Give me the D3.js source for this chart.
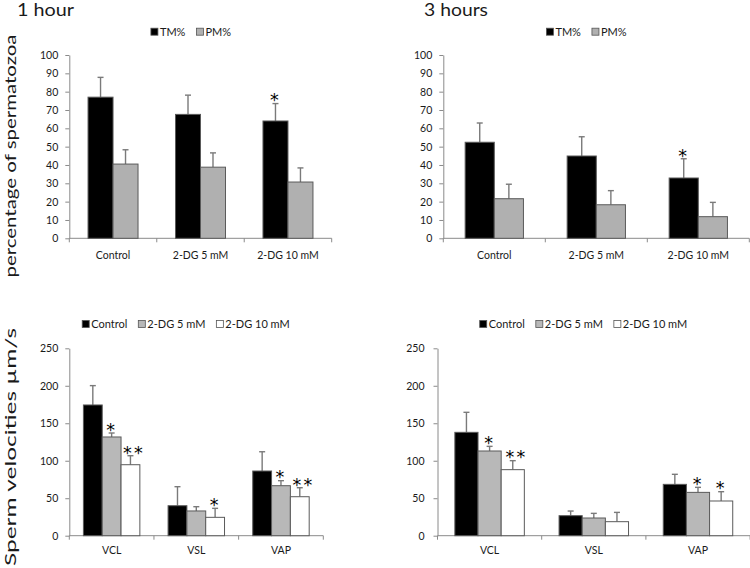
<!DOCTYPE html>
<html><head><meta charset="utf-8">
<script src="https://cdn.jsdelivr.net/npm/d3@7"></script>
<style>
body{margin:0;background:#fff}
svg{display:block}
text{font-family:Lato,"Open Sans",sans-serif;fill:#1a1a1a}
text.star{font-family:"DejaVu Sans",sans-serif;fill:#000}
</style>
</head><body>
<svg id="c" width="750" height="568"></svg>
<script>
// ---------- data ----------
const topCategories = ["Control", "2-DG 5 mM", "2-DG 10 mM"];
const topSeriesNames = ["TM%", "PM%"];
const topTicks = [0,10,20,30,40,50,60,70,80,90,100];

const tm1h = [77.0, 67.6, 64.0];
const tm1hSD = [10.8, 10.5, 9.5];
const pm1h = [40.5, 38.8, 30.7];
const pm1hSD = [7.8, 7.8, 7.7];
const tm1hStars = [0, 0, 1];
const pm1hStars = [0, 0, 0];

const tm3h = [52.4, 44.9, 32.9];
const tm3hSD = [10.5, 10.5, 10.5];
const pm3h = [21.6, 18.3, 11.8];
const pm3hSD = [7.9, 7.7, 7.8];
const tm3hStars = [0, 0, 1];
const pm3hStars = [0, 0, 0];

const botCategories = ["VCL", "VSL", "VAP"];
const botSeriesNames = ["Control", "2-DG 5 mM", "2-DG 10 mM"];
const botTicks = [0,50,100,150,200,250];

const ctl1h = [174.4, 40.0, 86.3];
const ctl1hSD = [25.8, 25.4, 25.7];
const dg5_1h = [131.7, 33.0, 66.7];
const dg5_1hSD = [5.3, 5.7, 6.7];
const dg10_1h = [94.7, 24.5, 52.0];
const dg10_1hSD = [12.0, 12.0, 12.0];
const ctl1hStars = [0, 0, 0];
const dg5_1hStars = [1, 0, 1];
const dg10_1hStars = [2, 1, 2];

const ctl3h = [137.9, 26.7, 68.5];
const ctl3hSD = [26.7, 6.2, 13.4];
const dg5_3h = [113.0, 23.6, 57.8];
const dg5_3hSD = [6.2, 6.2, 6.7];
const dg10_3h = [88.1, 18.7, 46.3];
const dg10_3hSD = [12.0, 12.4, 12.4];
const ctl3hStars = [0, 0, 0];
const dg5_3hStars = [1, 0, 1];
const dg10_3hStars = [2, 0, 1];

const titles = ["1 hour", "3 hours"];
const yLabels = ["percentage of spermatozoa", "Sperm velocities \u00b5m/s"];

// ---------- styles ----------
const fills = {"TM%":"#000000","PM%":"#b0b0b0","Control":"#000000","2-DG 5 mM":"#b8b8b8","2-DG 10 mM":"#ffffff"};
const barStroke = "#5a5a5a";
const axisColor = "#8a8a8a";
const errColor = "#7a7a7a";

const svg = d3.select("#c");

function panel(cfg) {
  const g = svg.append("g");
  const x = d3.scaleBand().domain(cfg.categories).range([cfg.x0, cfg.x1]).paddingInner(0).paddingOuter(0);
  const y = d3.scaleLinear().domain([0, cfg.yMax]).range([cfg.yZero, cfg.yTop]);
  const inner = d3.scaleBand().domain(cfg.series.map(s => s.name)).range([0, x.bandwidth()])
    .paddingInner(0).paddingOuter(0.75);

  // y axis
  const ya = g.append("g").attr("transform", `translate(${cfg.x0},0)`)
    .call(d3.axisLeft(y).tickValues(cfg.ticks).tickSize(4).tickSizeOuter(0).tickPadding(cfg.tickPad));
  ya.select(".domain").attr("stroke", axisColor);
  ya.selectAll(".tick line").attr("stroke", axisColor);
  ya.selectAll(".tick text").attr("font-size", "10.5px");

  // x axis labels
  const xa = g.append("g").attr("transform", `translate(0,${cfg.yZero})`)
    .call(d3.axisBottom(x).tickSize(0).tickPadding(cfg.xPad));
  xa.select(".domain").remove();
  xa.selectAll(".tick text").attr("font-size", "10.5px");
  g.append("line").attr("x1", cfg.x0).attr("x2", cfg.x1).attr("y1", cfg.yZero).attr("y2", cfg.yZero)
    .attr("stroke", axisColor);
  const bounds = cfg.categories.map(c => x(c)).concat([cfg.x1]);
  g.selectAll("line.xt").data(bounds).join("line").attr("class", "xt")
    .attr("x1", d => d).attr("x2", d => d).attr("y1", cfg.yZero).attr("y2", cfg.yZero + 4)
    .attr("stroke", axisColor);

  // bars
  cfg.series.forEach(s => {
    const items = cfg.categories.map((c, i) => ({c, v: s.values[i], sd: s.sd[i], stars: s.stars[i]}));
    const bx = d => x(d.c) + inner(s.name);
    const bw = inner.bandwidth();
    // error bars (upper only)
    g.selectAll(null).data(items).join("line")
      .attr("x1", d => bx(d) + bw / 2).attr("x2", d => bx(d) + bw / 2)
      .attr("y1", d => y(d.v)).attr("y2", d => y(d.v + d.sd))
      .attr("stroke", errColor).attr("stroke-width", 1.4);
    g.selectAll(null).data(items).join("line")
      .attr("x1", d => bx(d) + bw / 2 - 3).attr("x2", d => bx(d) + bw / 2 + 3)
      .attr("y1", d => y(d.v + d.sd)).attr("y2", d => y(d.v + d.sd))
      .attr("stroke", errColor).attr("stroke-width", 1.4);
    g.selectAll(null).data(items).join("rect")
      .attr("x", d => bx(d)).attr("width", bw)
      .attr("y", d => y(d.v)).attr("height", d => y(0) - y(d.v))
      .attr("fill", fills[s.name]).attr("stroke", barStroke).attr("stroke-width", 1);
    // significance stars
    items.filter(d => d.stars > 0).forEach(d => {
      const cx = bx(d) + bw / 2 + (d.stars > 1 ? 2.5 : -1);
      const cy = y(d.v + d.sd) - 6.5;
      for (let k = 0; k < d.stars; k++) {
        const off = d.stars > 1 ? (k - (d.stars - 1) / 2) * 11 : 0;
        g.append("text").attr("class", "star").text("*").attr("font-size", "17.5px")
          .attr("text-anchor", "middle").attr("x", cx + off).attr("y", cy + 9.3);
      }
    });
  });

  // legend
  const lg = g.append("g");
  let cur = 0;
  cfg.series.forEach((s, i) => {
    const it = lg.append("g");
    it.append("rect").attr("x", 0).attr("y", -3.5).attr("width", 7).attr("height", 7)
      .attr("fill", fills[s.name]).attr("stroke", "#555").attr("stroke-width", 0.8);
    const t = it.append("text").text(s.name).attr("x", 9).attr("y", 4)
      .attr("font-size", "11px");
    const w = 9 + t.node().getComputedTextLength();
    it.attr("transform", `translate(${cur},${cfg.legendY})`);
    cur += w + 11;
  });
  const total = cur - 11;
  lg.attr("transform", `translate(${cfg.legendCx - total / 2},0)`);
}

panel({categories: topCategories, ticks: topTicks, yMax: 100,
  x0: 69.3, x1: 331.7, yZero: 238.3, yTop: 55, tickPad: 7, xPad: 13, legendCx: 191, legendY: 31.7,
  series: [
    {name: topSeriesNames[0], values: tm1h, sd: tm1hSD, stars: tm1hStars},
    {name: topSeriesNames[1], values: pm1h, sd: pm1hSD, stars: pm1hStars}]});
panel({categories: topCategories, ticks: topTicks, yMax: 100,
  x0: 443.3, x1: 749.3, yZero: 238.3, yTop: 55, tickPad: 7, xPad: 13, legendCx: 586.5, legendY: 31.7,
  series: [
    {name: topSeriesNames[0], values: tm3h, sd: tm3hSD, stars: tm3hStars},
    {name: topSeriesNames[1], values: pm3h, sd: pm3hSD, stars: pm3hStars}]});
panel({categories: botCategories, ticks: botTicks, yMax: 250,
  x0: 69.3, x1: 323.3, yZero: 535.7, yTop: 348.3, tickPad: 7, xPad: 11, legendCx: 186, legendY: 324,
  series: [
    {name: botSeriesNames[0], values: ctl1h, sd: ctl1hSD, stars: ctl1hStars},
    {name: botSeriesNames[1], values: dg5_1h, sd: dg5_1hSD, stars: dg5_1hStars},
    {name: botSeriesNames[2], values: dg10_1h, sd: dg10_1hSD, stars: dg10_1hStars}]});
panel({categories: botCategories, ticks: botTicks, yMax: 250,
  x0: 437.5, x1: 750.1, yZero: 535.7, yTop: 348.3, tickPad: 9, xPad: 11, legendCx: 583.5, legendY: 324,
  series: [
    {name: botSeriesNames[0], values: ctl3h, sd: ctl3hSD, stars: ctl3hStars},
    {name: botSeriesNames[1], values: dg5_3h, sd: dg5_3hSD, stars: dg5_3hStars},
    {name: botSeriesNames[2], values: dg10_3h, sd: dg10_3hSD, stars: dg10_3hStars}]});

// titles
svg.append("text").text(titles[0]).attr("x", 17).attr("y", 16).attr("font-size", "17px")
  .attr("textLength", 57).attr("lengthAdjust", "spacingAndGlyphs");
svg.append("text").text(titles[1]).attr("x", 424).attr("y", 16).attr("font-size", "17px")
  .attr("textLength", 64).attr("lengthAdjust", "spacingAndGlyphs");

// y labels
function yLabel(txt, cx, cy, len, anchor) {
  svg.append("text").text(txt).attr("font-size", "15px")
    .attr("text-anchor", anchor).attr("transform", `translate(${cx},${cy}) rotate(-90)`)
    .attr("textLength", len).attr("lengthAdjust", "spacingAndGlyphs");
}
yLabel(yLabels[0], 16, 156, 243, "middle");
yLabel(yLabels[1], 16, 447, 238, "middle");
</script>
</body></html>
